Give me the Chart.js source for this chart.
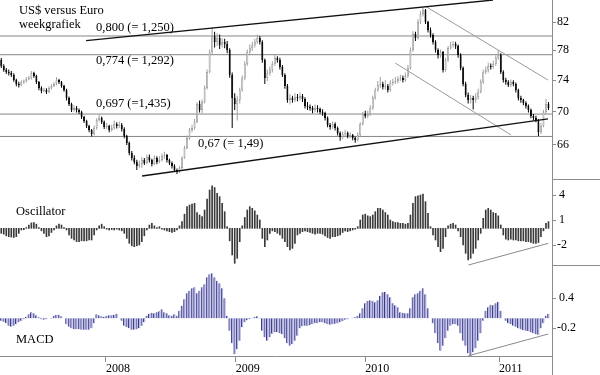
<!DOCTYPE html>
<html><head><meta charset="utf-8">
<script src="https://cdn.jsdelivr.net/npm/chart.js@4.4.1/dist/chart.umd.min.js"></script>
<style>
html,body{margin:0;padding:0;background:#fff;}
#wrap{position:relative;width:600px;height:375px;overflow:hidden;background:#fff;}
canvas{position:absolute;left:0;}
</style></head><body>
<div id="wrap">
<canvas id="c1" width="600" height="180" style="top:0"></canvas>
<canvas id="c2" width="600" height="86" style="top:180px"></canvas>
<canvas id="c3" width="600" height="109" style="top:266px"></canvas>
</div>
<script>
// ---- weekly USD in euro-cents, one entry per week (week index 0 = mid March 2007) ----
const opens = [
76.68,75.88,75.34,75.08,74.94,74.68,74.02,73.50,73.37,73.76,
73.89,74.15,74.28,74.94,74.55,73.76,72.98,72.59,72.72,72.47,
72.98,73.24,73.50,74.02,73.76,73.24,72.72,71.70,70.95,70.20,
70.44,70.20,69.96,69.34,68.85,68.25,67.77,67.29,68.01,68.97,
69.22,68.73,68.13,68.25,67.77,68.01,68.49,68.25,68.37,67.89,
67.05,66.23,65.07,64.50,64.05,63.60,63.82,64.27,63.93,64.61,
64.27,63.82,64.50,64.05,64.27,64.73,64.84,64.27,63.93,63.60,
63.15,62.93,63.38,64.50,65.65,66.82,67.77,68.01,68.73,70.95,
70.20,71.20,72.98,75.08,77.77,79.98,79.16,79.72,78.74,79.16,
78.88,78.05,74.68,71.70,70.95,71.45,72.72,74.28,76.14,77.77,
78.33,78.74,79.16,79.72,79.16,76.68,74.28,74.94,75.34,76.14,
76.95,76.68,75.74,74.68,73.24,71.45,71.70,71.45,71.83,71.70,
71.96,71.58,70.70,70.57,70.45,70.20,70.45,70.32,69.96,69.83,
69.22,68.37,68.13,68.49,68.01,67.41,66.94,67.29,67.41,67.05,
67.17,66.82,66.58,67.17,68.49,69.71,69.47,69.71,70.45,71.70,
72.72,73.37,73.50,73.11,73.24,72.72,73.63,73.76,73.89,74.15,
74.28,74.02,74.55,75.61,78.05,80.28,79.72,82.00,83.17,83.76,
82.00,80.85,80.14,79.16,78.05,77.36,77.77,75.34,76.68,78.33,
78.74,78.88,78.60,77.36,75.61,73.50,72.09,71.45,71.70,71.45,
71.83,72.47,73.76,75.08,75.34,75.88,75.74,76.14,76.95,77.36,
75.08,74.02,73.76,73.37,73.76,73.50,72.72,71.70,71.45,71.07,
70.70,70.20,69.47,69.22,68.97,67.53,68.25,69.96,70.95];
const highs = [
76.95,76.10,75.60,75.40,75.20,74.90,74.20,73.80,74.00,74.10,
74.40,74.55,75.20,75.10,74.70,73.90,73.20,73.00,72.95,73.20,
73.50,73.80,74.40,74.20,73.90,73.40,72.90,71.90,71.10,70.80,
70.70,70.40,70.10,69.50,69.00,68.40,67.90,68.30,69.20,69.70,
69.40,68.90,68.60,68.40,68.40,68.90,68.70,68.80,68.60,68.10,
67.20,66.40,65.30,64.80,64.30,64.20,64.60,64.50,64.90,64.90,
64.40,64.80,64.70,64.70,65.00,65.20,64.95,64.40,64.10,63.80,
63.30,63.60,64.70,65.90,67.10,68.00,68.40,69.10,71.20,71.40,
71.50,73.30,75.40,78.10,81.20,80.60,80.40,80.20,79.70,79.60,
79.30,78.30,75.00,72.30,72.00,73.00,74.60,76.50,78.10,78.80,
79.20,79.60,80.20,80.00,79.40,76.90,75.40,75.80,76.50,77.50,
77.20,77.00,76.00,74.90,73.50,72.20,72.00,72.30,72.20,72.40,
72.20,71.80,71.20,70.90,70.70,70.90,70.80,70.50,70.30,70.00,
69.40,68.60,68.80,68.70,68.20,67.60,67.60,67.80,67.60,67.50,
67.30,67.00,67.50,68.70,70.00,70.10,70.10,70.80,72.00,73.00,
73.90,74.40,73.80,74.00,73.50,74.00,74.20,74.40,74.50,74.70,
74.60,75.00,76.00,78.40,80.70,80.60,82.40,83.60,84.10,83.90,
82.20,81.20,80.40,79.40,78.30,78.10,77.90,77.00,78.60,79.20,
79.30,79.20,78.80,77.60,75.80,73.80,72.40,72.10,72.00,72.30,
72.90,74.10,75.40,75.80,76.30,76.20,76.60,77.30,78.05,77.60,
75.30,74.30,74.00,74.10,74.00,73.70,72.90,72.00,71.60,71.30,
70.90,70.40,69.70,69.50,69.10,68.60,70.20,71.58,71.20];
const lows = [
75.60,75.10,74.80,74.60,74.40,73.80,73.20,73.05,73.20,73.50,
73.70,74.00,74.10,74.30,73.50,72.70,72.30,72.40,72.20,72.30,
72.80,73.10,73.30,73.50,73.00,72.50,71.40,70.70,69.95,70.00,
69.90,69.70,69.10,68.60,68.00,67.50,67.00,67.10,67.80,68.80,
68.50,67.90,67.90,67.50,67.60,67.80,67.95,68.00,67.60,66.80,
66.00,64.80,64.20,63.80,63.15,63.40,63.40,63.70,63.80,64.00,
63.55,63.70,63.80,63.90,64.10,64.40,64.00,63.70,63.30,62.95,
62.70,62.80,63.20,64.40,65.50,66.60,67.50,67.80,68.60,69.90,
69.80,71.00,72.80,74.90,77.50,78.40,78.60,78.20,78.40,78.30,
77.60,74.30,68.00,70.20,68.90,71.00,72.50,74.00,75.90,77.40,
77.90,78.40,78.90,78.80,76.30,73.50,73.90,74.60,75.00,75.90,
76.30,75.40,74.40,72.90,71.10,70.90,71.10,71.20,71.30,71.40,
71.20,70.40,70.20,70.10,69.80,69.90,69.90,69.70,69.50,68.90,
68.10,67.80,67.90,67.70,67.10,66.50,66.70,67.00,66.80,66.80,
66.55,66.25,66.40,66.90,68.30,69.20,69.20,69.50,70.20,71.50,
72.50,73.00,72.80,72.80,72.40,72.50,73.30,73.50,73.60,73.90,
73.70,73.80,74.30,75.40,77.80,79.30,79.50,81.70,82.80,81.70,
80.50,79.80,78.80,77.70,76.90,77.00,75.00,75.10,76.40,78.10,
78.40,78.20,77.00,75.30,73.20,71.80,71.00,71.00,70.25,71.10,
71.50,72.30,73.50,74.80,75.00,75.40,75.50,75.90,76.70,74.80,
73.70,73.40,73.10,73.10,73.20,72.40,71.40,71.10,70.80,70.40,
69.90,69.20,68.90,68.70,67.05,67.30,68.10,69.70,70.20];
const closes = [
75.88,75.34,75.08,74.94,74.68,74.02,73.50,73.37,73.76,73.89,
74.15,74.28,74.94,74.55,73.76,72.98,72.59,72.72,72.47,72.98,
73.24,73.50,74.02,73.76,73.24,72.72,71.70,70.95,70.20,70.44,
70.20,69.96,69.34,68.85,68.25,67.77,67.29,68.01,68.97,69.22,
68.73,68.13,68.25,67.77,68.01,68.49,68.25,68.37,67.89,67.05,
66.23,65.07,64.50,64.05,63.60,63.82,64.27,63.93,64.61,64.27,
63.82,64.50,64.05,64.27,64.73,64.84,64.27,63.93,63.60,63.15,
62.93,63.38,64.50,65.65,66.82,67.77,68.01,68.73,70.95,70.20,
71.20,72.98,75.08,77.77,79.98,79.16,79.72,78.74,79.16,78.88,
78.05,74.68,71.70,70.95,71.45,72.72,74.28,76.14,77.77,78.33,
78.74,79.16,79.72,79.16,76.68,74.28,74.94,75.34,76.14,76.95,
76.68,75.74,74.68,73.24,71.45,71.70,71.45,71.83,71.70,71.96,
71.58,70.70,70.57,70.45,70.20,70.45,70.32,69.96,69.83,69.22,
68.37,68.13,68.49,68.01,67.41,66.94,67.29,67.41,67.05,67.17,
66.82,66.58,67.17,68.49,69.71,69.47,69.71,70.45,71.70,72.72,
73.37,73.50,73.11,73.24,72.72,73.63,73.76,73.89,74.15,74.28,
74.02,74.55,75.61,78.05,80.28,79.72,82.00,83.17,83.76,82.00,
80.85,80.14,79.16,78.05,77.36,77.77,75.34,76.68,78.33,78.74,
78.88,78.60,77.36,75.61,73.50,72.09,71.45,71.70,71.45,71.83,
72.47,73.76,75.08,75.34,75.88,75.74,76.14,76.95,77.36,75.08,
74.02,73.76,73.37,73.76,73.50,72.72,71.70,71.45,71.07,70.70,
70.20,69.47,69.22,68.97,67.53,68.25,69.96,70.95,70.45];
const oscillator = [
-0.6,-0.7,-0.9,-1.0,-1.05,-1.1,-1.0,-0.6,-0.2,-0.15,
0.1,0.4,0.65,0.7,0.5,0.1,-0.3,-0.6,-1.0,-0.9,
-0.5,-0.2,0.3,0.5,0.4,0.1,-0.2,-0.8,-1.2,-1.4,
-1.6,-1.6,-1.5,-1.5,-1.5,-1.4,-1.4,-0.8,-0.2,0.3,
0.5,0.2,-0.1,-0.2,-0.15,-0.2,-0.1,-0.2,-0.3,-0.6,
-1.2,-1.8,-2.1,-2.2,-2.1,-2.0,-1.6,-0.9,-0.2,0.4,
0.6,0.3,0.1,0.2,-0.1,-0.2,-0.3,-0.4,-0.5,-0.4,
-0.2,0.3,0.8,1.7,2.6,2.8,2.9,3.0,1.9,1.6,
1.4,2.2,3.5,4.6,5.1,4.9,4.2,3.8,3.0,2.0,
0.2,-1.5,-3.2,-4.2,-3.6,-1.6,0.3,1.3,2.2,2.6,
2.4,2.1,1.6,1.0,-1.2,-2.2,-1.4,-0.6,-0.3,-0.4,
-0.6,-0.8,-1.2,-1.6,-2.2,-2.6,-2.4,-1.8,-0.8,-0.6,
-0.4,-0.3,-0.4,-0.5,-0.6,-0.7,-0.6,-0.6,-0.7,-0.9,
-1.1,-1.2,-1.0,-1.0,-0.9,-0.8,-0.5,-0.3,-0.4,-0.3,
-0.2,-0.1,0.2,1.0,1.6,1.7,1.5,1.4,1.6,2.0,
2.4,2.4,2.2,1.9,1.6,1.0,0.8,0.7,0.7,0.6,
0.6,0.5,0.6,1.6,3.0,3.8,3.9,4.0,4.1,3.2,
1.8,0.2,-0.8,-1.4,-2.2,-2.8,-2.4,-1.0,0.3,0.5,
0.6,0.4,-0.3,-1.0,-2.0,-3.0,-3.8,-3.6,-3.0,-2.4,
-1.4,-0.6,1.2,2.2,2.4,2.2,1.9,1.8,1.5,0.4,
-0.8,-1.3,-1.4,-1.3,-1.4,-1.4,-1.5,-1.5,-1.5,-1.6,
-1.6,-1.7,-1.8,-1.8,-1.7,-1.0,-0.3,0.6,0.8];
const macd = [
-0.05,-0.07,-0.1,-0.15,-0.17,-0.15,-0.12,-0.08,-0.05,-0.02,
0.03,0.08,0.12,0.1,0.06,0.02,-0.02,-0.03,-0.02,0.0,
-0.01,0.05,0.07,0.07,0.04,0.0,-0.12,-0.17,-0.2,-0.22,
-0.22,-0.22,-0.23,-0.23,-0.23,-0.23,-0.2,-0.1,0.08,0.06,
0.04,0.03,0.05,0.06,0.06,0.07,0.09,0.0,-0.05,-0.15,
-0.18,-0.2,-0.23,-0.23,-0.22,-0.2,-0.15,-0.08,0.05,0.09,
0.11,0.1,0.12,0.14,0.18,0.12,0.1,0.06,0.05,0.08,
0.05,0.15,0.25,0.38,0.5,0.55,0.6,0.62,0.5,0.55,
0.62,0.68,0.82,0.88,0.9,0.82,0.75,0.7,0.6,0.4,
0.05,-0.25,-0.5,-0.72,-0.62,-0.45,-0.18,-0.08,-0.04,-0.02,
0.01,0.03,0.04,0.01,-0.25,-0.38,-0.45,-0.38,-0.31,-0.28,
-0.28,-0.3,-0.32,-0.4,-0.5,-0.55,-0.52,-0.45,-0.35,-0.2,
-0.16,-0.15,-0.15,-0.14,-0.12,-0.1,-0.1,-0.08,-0.08,-0.1,
-0.12,-0.13,-0.12,-0.11,-0.1,-0.08,-0.06,-0.03,-0.02,0.0,
0.01,0.02,0.05,0.1,0.2,0.3,0.35,0.36,0.35,0.32,
0.36,0.45,0.52,0.53,0.48,0.42,0.3,0.26,0.22,0.12,
0.11,0.1,0.1,0.2,0.42,0.48,0.5,0.55,0.6,0.48,
0.2,0.0,-0.1,-0.3,-0.5,-0.65,-0.55,-0.4,-0.25,-0.15,
-0.12,-0.12,-0.15,-0.3,-0.45,-0.55,-0.7,-0.75,-0.68,-0.6,
-0.45,-0.3,-0.05,0.15,0.22,0.27,0.26,0.3,0.33,0.15,
0.0,-0.05,-0.1,-0.12,-0.15,-0.17,-0.2,-0.22,-0.24,-0.25,
-0.26,-0.28,-0.3,-0.32,-0.33,-0.2,-0.1,0.05,0.09];

// horizontal levels and their captions
const levels = [80.0, 77.4, 69.7, 67.0];
const levelLabels = ['0,800 (= 1,250)', '0,774 (= 1,292)', '0,697 (=1,435)', '0,67 (= 1,49)'];
// trend lines as [week, value] end points
const resistanceLine = [[33.8, 79.34], [195.9, 85.25]];
const supportLine = [[56.1, 62.48], [217.8, 69.12]];
const channelTop = [[168.8, 84.35], [217.8, 74.02]];
const channelBottom = [[156.9, 76.28], [203.1, 67.17]];
const oscTrend = [[186.1, -4.4], [217.9, -1.8]];
const macdTrend = [[186.1, -0.75], [217.9, -0.314]];
// axis ticks
const priceTicks = [64, 66, 68, 70, 72, 74, 76, 78, 80, 82, 84];
const priceLabels = [66, 70, 74, 78, 82];
const oscTicks = [-4, -3, -2, -1, 0, 1, 2, 3, 4, 5];
const oscLabels = [4, 1, -2];
const macdTicks = [-0.6, -0.4, -0.2, 0, 0.2, 0.4, 0.6, 0.8, 1.0];
const macdLabels = [0.4, -0.2];
const years = ['2008', '2009', '2010', '2011'];
const yearWeeks = [41.7, 93.4, 145.0, 198.3];

// ---- styling / layout ----
const FONT = '"Liberation Serif", "Times New Roman", serif';
const AXIS = '#8c8c8c';
const X_MIN = -0.5, X_MAX = 219.4;
const tickFont = {family: FONT, size: 12};

function hiddenX() {
  return {type: 'linear', min: X_MIN, max: X_MAX, offset: false, display: false, grid: {offset: false}};
}
function rightAxis(extra, tickVals, labelFn, align) {
  return Object.assign({
    position: 'right',
    afterBuildTicks: s => { s.ticks = tickVals.map(v => ({value: v})); },
    afterFit: s => { s.width = 48; s.paddingTop = 0; s.paddingBottom = 0; },
    ticks: {autoSkip: false, padding: 1, crossAlign: align, color: '#000', font: tickFont, callback: labelFn},
    grid: {drawOnChartArea: false, drawTicks: true, tickLength: 4, color: AXIS},
    border: {display: true, color: AXIS, width: 1}
  }, extra);
}
const pairs = arr => arr.map(p => ({x: p[0], y: p[1]}));
function lineDs(points, color, width, order) {
  return {type: 'line', data: pairs(points), borderColor: color, borderWidth: width,
          pointRadius: 0, fill: false, tension: 0, order: order};
}

const decoPlugin = {
  id: 'deco',
  afterDraw(chart, args, o) {
    const ctx = chart.ctx, a = chart.chartArea;
    ctx.save();
    ctx.strokeStyle = AXIS; ctx.lineWidth = 1;
    if (o.sepBottom) {
      ctx.beginPath(); ctx.moveTo(a.right, Math.round(a.bottom) - 0.5);
      ctx.lineTo(chart.width, Math.round(a.bottom) - 0.5); ctx.stroke();
    }
    if (o.vExtend) {
      const xr = Math.round(a.right) + 0.5;
      ctx.beginPath(); ctx.moveTo(xr, a.bottom); ctx.lineTo(xr, chart.height); ctx.stroke();
    }
    ctx.fillStyle = '#000';
    ctx.font = '12.5px ' + FONT;
    ctx.textBaseline = 'alphabetic';
    ctx.textAlign = 'left';
    (o.texts || []).forEach(t => ctx.fillText(t.text, a.left + t.x, a.top + t.y));
    if (o.levelText) {
      const xs = chart.scales.x, ys = chart.scales.y;
      o.levelText.forEach((lt, k) => {
        ctx.fillText(levelLabels[k], xs.getPixelForValue(lt.week), ys.getPixelForValue(levels[k]) + lt.dy);
      });
    }
    ctx.restore();
  }
};

// ---- chart 1: candles ----
const up = closes.map((c, i) => c >= opens[i]);
const wickData = highs.map((h, i) => ({x: i, y: [lows[i], h]}));
const bodyData = closes.map((c, i) => ({x: i, y: [opens[i], c]}));
const priceDatasets = levels.map(v => lineDs([[X_MIN, v], [X_MAX, v]], '#858585', 1, 6));
priceDatasets.push({
  type: 'bar', data: wickData, grouped: false, barThickness: 1, order: 4,
  backgroundColor: up.map(u => u ? '#a0a0a0' : '#000'), borderWidth: 0, inflateAmount: 0
});
priceDatasets.push({
  type: 'bar', data: bodyData, grouped: false, barThickness: 2, order: 3,
  backgroundColor: up.map(u => u ? '#ffffff' : '#000'),
  borderColor: up.map(u => u ? '#9a9a9a' : '#000'), borderWidth: 0.8, borderSkipped: false, inflateAmount: 0
});
priceDatasets.push(lineDs(resistanceLine, '#111', 1.3, 1));
priceDatasets.push(lineDs(supportLine, '#111', 1.3, 1));
priceDatasets.push(lineDs(channelTop, '#9a9a9a', 1, 1));
priceDatasets.push(lineDs(channelBottom, '#9a9a9a', 1, 1));

const common = {
  responsive: false, animation: false, events: [],
  layout: {padding: 0},
};

new Chart(document.getElementById('c1'), {
  type: 'bar',
  data: {datasets: priceDatasets},
  options: Object.assign({}, common, {
    scales: {
      x: hiddenX(),
      y: rightAxis({type: 'logarithmic', min: 62.04, max: 85.25}, priceTicks,
        v => priceLabels.includes(Math.round(v)) && Math.abs(v - Math.round(v)) < 1e-6 ? String(Math.round(v)) : null, 'near')
    },
    plugins: {
      legend: {display: false}, tooltip: {enabled: false},
      deco: {
        sepBottom: true,
        texts: [{text: 'US$ versus Euro', x: 19, y: 13.5}, {text: 'weekgrafiek', x: 19, y: 28}],
        levelText: [{week: 37.75, dy: -4.5}, {week: 37.75, dy: 9.5}, {week: 37.75, dy: -7}, {week: 78.4, dy: 10.5}]
      }
    }
  }),
  plugins: [decoPlugin]
});

// ---- chart 2: oscillator ----
new Chart(document.getElementById('c2'), {
  type: 'bar',
  data: {datasets: [
    {type: 'bar', data: oscillator.map((v, i) => ({x: i, y: v})), grouped: false, barThickness: 1,
     backgroundColor: '#3a3a3a', borderWidth: 0, order: 2},
    lineDs(oscTrend, '#8a8a8a', 1, 1)
  ]},
  options: Object.assign({}, common, {
    scales: {
      x: hiddenX(),
      y: rightAxis({type: 'linear', min: -4.52, max: 5.8}, oscTicks,
        v => oscLabels.includes(Math.round(v)) ? String(Math.round(v)) : null, 'center')
    },
    plugins: {
      legend: {display: false}, tooltip: {enabled: false},
      deco: {sepBottom: true, texts: [{text: 'Oscillator', x: 16, y: 35}]}
    }
  }),
  plugins: [decoPlugin]
});

// ---- chart 3: MACD ----
new Chart(document.getElementById('c3'), {
  type: 'bar',
  data: {datasets: [
    {type: 'bar', data: macd.map((v, i) => ({x: i, y: v})), grouped: false, barThickness: 2,
     backgroundColor: '#b4b4e6', borderColor: '#3a3a80',
     borderWidth: {left: 1, right: 0, top: 0, bottom: 0}, borderSkipped: false, order: 2},
    lineDs(macdTrend, '#8a8a8a', 1, 1)
  ]},
  options: Object.assign({}, common, {
    scales: {
      x: {
        type: 'linear', min: X_MIN, max: X_MAX, offset: false, position: 'bottom',
        afterBuildTicks: s => { s.ticks = yearWeeks.map(v => ({value: v})); },
        afterFit: s => { s.height = 19; s.paddingLeft = 0; s.paddingRight = 0; },
        ticks: {autoSkip: false, maxRotation: 0, minRotation: 0, align: 'start', padding: 0,
                color: '#000', font: tickFont, callback: (v, i) => years[i]},
        grid: {drawOnChartArea: false, drawTicks: true, tickLength: 6, color: AXIS, offset: false},
        border: {display: true, color: AXIS, width: 1}
      },
      y: rightAxis({type: 'linear', min: -0.754, max: 1.046}, macdTicks,
        v => { const r = Math.round(v * 10) / 10; return macdLabels.includes(r) ? String(r) : null; }, 'center')
    },
    plugins: {
      legend: {display: false}, tooltip: {enabled: false},
      deco: {vExtend: true, texts: [{text: 'MACD', x: 16, y: 77}]}
    }
  }),
  plugins: [decoPlugin]
});
</script>
</body></html>
